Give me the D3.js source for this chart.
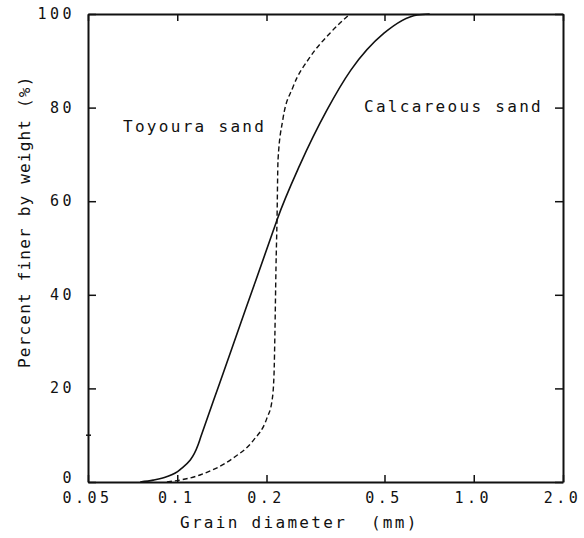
<!DOCTYPE html>
<html>
<head>
<meta charset="utf-8">
<script src="https://cdn.jsdelivr.net/npm/d3@7"></script>
<style>
  body { margin: 0; background: #fff; }
  svg text { font-family: "DejaVu Sans Mono", monospace; fill: #111; }
</style>
</head>
<body>
<svg id="chart" width="584" height="538"></svg>
<script>
// grain size distribution
var xTicks = [0.05, 0.1, 0.2, 0.5, 1.0, 2.0];
var xTickLabels = ["0.05", "0.1", "0.2", "0.5", "1.0", "2.0"];
var yTicks = [0, 20, 40, 60, 80, 100];

// Calcareous sand (solid)
var calcD = [0.075, 0.083, 0.092, 0.102, 0.1175, 0.12, 0.139, 0.17, 0.21, 0.217, 0.259, 0.320, 0.385, 0.498, 0.644, 0.71];
var calcP = [0, 0.4, 1.1, 2.6, 7.9, 9.6, 21.1, 36.9, 53.4, 56, 67.7, 79.5, 88, 95.9, 99.8, 100];

// Toyoura sand (dashed)
var toyD = [0.0923, 0.1193, 0.1542, 0.180, 0.2008, 0.2087, 0.212, 0.2135, 0.2153, 0.217, 0.2187, 0.227, 0.2457, 0.2804, 0.3274, 0.3824];
var toyP = [0, 1.5, 5.1, 8.8, 13.7, 17.3, 22.9, 31.8, 46, 56, 68.8, 77.4, 84.4, 90.8, 95.9, 100];

var width = 584, height = 538;
var margin = {top: 14, right: 21, bottom: 56, left: 88};
var w = width - margin.left - margin.right,
    h = height - margin.top - margin.bottom;

var svg = d3.select("#chart");
var g = svg.append("g").attr("transform", "translate(" + margin.left + "," + margin.top + ")");

var x = d3.scaleLog().domain([0.05, 2.0]).range([0, w]);
var y = d3.scaleLinear().domain([0, 100]).range([h, 0]);

var tickFont = "15px", tickSpacing = "3.5px";
var titleFont = "16px", titleSpacing = "2.3px";

// bottom axis, ticks pointing in
var xAxis = g.append("g").attr("transform", "translate(0," + h + ")")
  .call(d3.axisBottom(x).tickValues(xTicks)
    .tickFormat(function(d, i) { return xTickLabels[i]; })
    .tickSizeInner(-7).tickSizeOuter(0).tickPadding(10));
// top axis, no labels
var xTop = g.append("g")
  .call(d3.axisTop(x).tickValues(xTicks).tickFormat("")
    .tickSizeInner(-7).tickSizeOuter(0));
// left axis
var yAxis = g.append("g")
  .call(d3.axisLeft(y).tickValues(yTicks)
    .tickSizeInner(-8).tickSizeOuter(0).tickPadding(13));
// right axis
var yRight = g.append("g").attr("transform", "translate(" + w + ",0)")
  .call(d3.axisRight(y).tickValues(yTicks).tickFormat("")
    .tickSizeInner(-8).tickSizeOuter(0));

[xAxis, xTop, yAxis, yRight].forEach(function(a) {
  a.select(".domain").attr("stroke", "#111").attr("stroke-width", 2);
  a.selectAll(".tick line").attr("stroke", "#111").attr("stroke-width", 1.5);
  a.selectAll("text")
    .style("font-family", '"DejaVu Sans Mono", monospace')
    .style("font-size", tickFont)
    .style("letter-spacing", tickSpacing)
    .attr("fill", "#111");
});
xAxis.selectAll(".tick text").attr("dx", "-1px");
yAxis.selectAll(".tick text").attr("dy", function(d) { return d === 0 ? "0.05em" : "0.3em"; });

// small stray mark at 10 % on the left axis
g.append("line")
  .attr("x1", -2).attr("x2", 3)
  .attr("y1", y(10)).attr("y2", y(10))
  .attr("stroke", "#111").attr("stroke-width", 1.5);

var line = d3.line()
  .x(function(d) { return x(d[0]); })
  .y(function(d) { return y(d[1]); })
  .curve(d3.curveMonotoneX);

var calc = calcD.map(function(d, i) { return [d, calcP[i]]; });
var toy = toyD.map(function(d, i) { return [d, toyP[i]]; });

g.append("path").datum(calc)
  .attr("d", line)
  .attr("fill", "none").attr("stroke", "#111").attr("stroke-width", 1.6);

g.append("path").datum(toy)
  .attr("d", line)
  .attr("fill", "none").attr("stroke", "#111").attr("stroke-width", 1.4)
  .attr("stroke-dasharray", "5,3");

// curve labels
svg.append("text").attr("x", 123).attr("y", 132)
  .style("font-size", titleFont).style("letter-spacing", titleSpacing)
  .text("Toyoura sand");
svg.append("text").attr("x", 364).attr("y", 112)
  .style("font-size", titleFont).style("letter-spacing", titleSpacing)
  .text("Calcareous sand");

// axis titles
svg.append("text").attr("x", 180).attr("y", 528)
  .style("font-size", titleFont).style("letter-spacing", titleSpacing)
  .style("white-space", "pre")
  .text("Grain diameter  (mm)");

svg.append("text")
  .attr("transform", "translate(30,368) rotate(-90)")
  .style("font-size", titleFont).style("letter-spacing", "1.2px")
  .text("Percent finer by weight (%)");
</script>
</body>
</html>
